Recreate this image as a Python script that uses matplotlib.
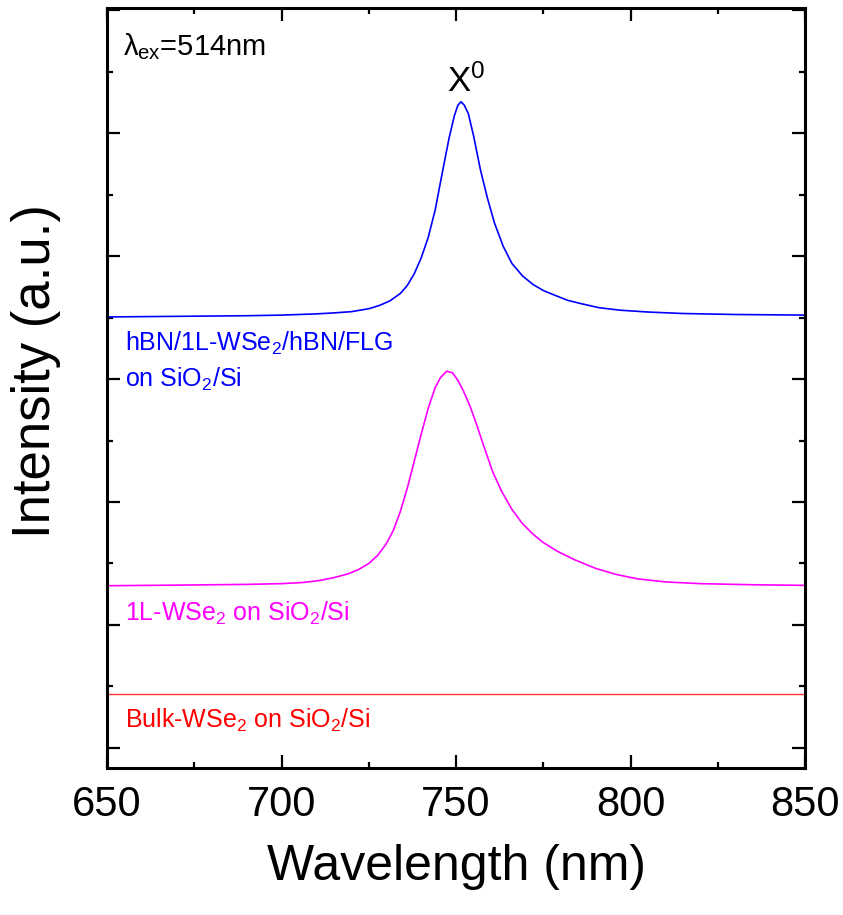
import matplotlib
matplotlib.use("Agg")
import matplotlib.pyplot as plt
from matplotlib.ticker import MultipleLocator

plt.rcParams["font.family"] = ["Liberation Sans", "DejaVu Sans"]
plt.rcParams["mathtext.fontset"] = "custom"
plt.rcParams["mathtext.rm"] = "Liberation Sans"
plt.rcParams["mathtext.it"] = "Liberation Sans"
plt.rcParams["mathtext.bf"] = "Liberation Sans:bold"

# hBN/1L-WSe2/hBN/FLG on SiO2/Si (blue, offset)
wl_hbn = [650, 670, 690, 700, 710, 715, 720, 725, 728, 731, 734, 736, 738,
          740, 742, 744, 746, 748, 749.5, 750.5, 751.4, 752.3, 753.5, 755,
          757, 759, 761, 763.5, 766, 769, 772, 775, 778, 782, 786, 791,
          797, 805, 815, 830, 850]
int_hbn = [3505, 3510, 3515, 3520, 3530, 3538, 3548, 3572, 3598, 3635, 3695,
           3760, 3855, 3985, 4150, 4373, 4670, 4960, 5140, 5225, 5255, 5230,
           5160, 4980, 4700, 4470, 4270, 4080, 3940, 3840, 3770, 3720, 3685,
           3640, 3612, 3580, 3560, 3545, 3533, 3525, 3520]

# 1L-WSe2 on SiO2/Si (magenta, offset)
wl_1l = [650, 670, 690, 700, 706, 711, 715, 719, 722, 725, 727.5, 730, 732,
         734, 736, 738, 740, 742, 744, 745.5, 747.3, 749, 750.5, 752, 754,
         756, 758, 760.5, 763, 766, 769, 772, 775, 779, 784, 790, 796, 802,
         810, 820, 835, 850]
int_1l = [1319, 1324, 1330, 1336, 1345, 1362, 1385, 1415, 1450, 1500, 1565,
          1660, 1767, 1920, 2110, 2330, 2550, 2760, 2930, 3010, 3064, 3050,
          2990, 2910, 2780, 2620, 2450, 2245, 2090, 1940, 1825, 1740, 1670,
          1600, 1530, 1460, 1410, 1375, 1350, 1336, 1327, 1322]

# Bulk-WSe2 on SiO2/Si (red)
wl_bulk = [650, 700, 750, 800, 850]
int_bulk = [440, 440, 440, 440, 440]

fig = plt.figure(figsize=(8.43, 9.15), dpi=100)
ax = fig.add_axes([0.127, 0.1607, 0.828, 0.8306])

ax.plot(wl_hbn, int_hbn, color="#0000ff", lw=1.2)
ax.plot(wl_1l, int_1l, color="#ff00ff", lw=1.2)
ax.plot(wl_bulk, int_bulk, color="#ff3030", lw=1.0)

ax.set_xlim(650, 850)
ax.set_ylim(-163, 6018)

ax.xaxis.set_major_locator(MultipleLocator(50))
ax.xaxis.set_minor_locator(MultipleLocator(25))
ax.yaxis.set_major_locator(MultipleLocator(1000))
ax.yaxis.set_minor_locator(MultipleLocator(500))
ax.tick_params(which="both", direction="in", top=True, right=True, width=1.6)
ax.tick_params(which="major", length=9.5)
ax.tick_params(which="minor", length=4.5)
ax.tick_params(axis="x", which="major", pad=12, labelsize=30)
ax.tick_params(axis="y", labelleft=False)
for sp in ax.spines.values():
    sp.set_linewidth(2.2)

ax.set_xlabel("Wavelength (nm)", fontsize=36, labelpad=14)
ax.set_ylabel("Intensity (a.u.)", fontsize=38)
ax.yaxis.set_label_coords(-0.066, 0.522)

ax.text(0.023, 0.949, r"$\lambda_{\mathrm{ex}}$=514nm", transform=ax.transAxes,
        fontsize=21, va="center", ha="left")
ax.text(752.8, 5334, r"X$^{0}$", fontsize=25, ha="center", va="baseline")

ax.text(0.026, 0.559, r"hBN/1L-WSe$_2$/hBN/FLG", transform=ax.transAxes,
        fontsize=18, color="#0000ff", va="center", ha="left")
ax.text(0.026, 0.511, r"on SiO$_2$/Si", transform=ax.transAxes,
        fontsize=18, color="#0000ff", va="center", ha="left")
ax.text(0.026, 0.204, r"1L-WSe$_2$ on SiO$_2$/Si", transform=ax.transAxes,
        fontsize=18, color="#ff00ff", va="center", ha="left")
ax.text(0.026, 0.063, r"Bulk-WSe$_2$ on SiO$_2$/Si", transform=ax.transAxes,
        fontsize=18, color="#ff0000", va="center", ha="left")

fig.savefig("out.png", dpi=100)
